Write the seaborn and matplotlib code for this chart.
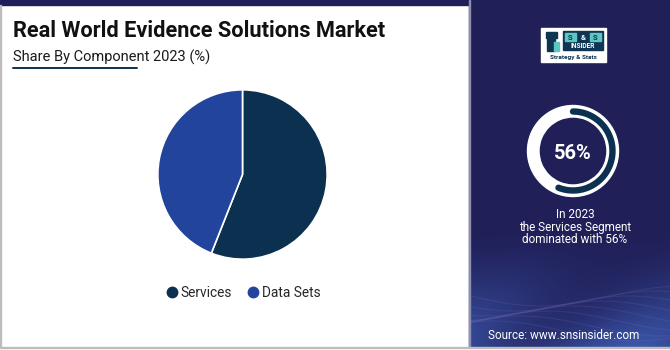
import numpy as np
import matplotlib
matplotlib.use("Agg")
import matplotlib.pyplot as plt
from matplotlib.patches import Rectangle, Wedge
from matplotlib.lines import Line2D
import seaborn as sns

# Market share by component, 2023 (%)
components = ["Services", "Data Sets"]
shares = [56, 44]
colors = ["#0c3150", "#22449c"]

title = "Real World Evidence Solutions Market"
subtitle = "Share By Component 2023 (%)"
highlight_year = "2023"
highlight_segment = "Services"
source = "Source: www.snsinsider.com"

sns.set_theme(style="white")
plt.rcParams["font.family"] = ["Roboto", "DejaVu Sans"]

W, H = 670, 350
NAVY = "#201f58"
fig = plt.figure(figsize=(W / 100, H / 100), dpi=100, facecolor="white")


def px_axes(x0, y0, w, h, **kw):
    """Axes placed by pixel box (top-left origin)."""
    return fig.add_axes([x0 / W, 1 - (y0 + h) / H, w / W, h / H], **kw)


# background canvas in pixel coordinates
bg = px_axes(0, 0, W, H)
bg.set_xlim(0, W)
bg.set_ylim(H, 0)
bg.axis("off")
bg.add_patch(Rectangle((0, 0), W, 5, color=NAVY, zorder=1))
bg.add_patch(Rectangle((469, 0), W - 469, 347, color=NAVY, zorder=1))
# lighter wave glow at the bottom of the side panel
grad = np.linspace(0, 1, 120)[:, None] ** 1.4
xs = np.linspace(0, 1, 200)[None, :]
rgb_top = np.array([0x20, 0x1f, 0x58]) / 255
rgb_bot = np.array([0x3a, 0x55, 0xa8]) / 255
mix = grad * (0.7 + 0.3 * np.sin(xs * 6 + grad * 3))
img = rgb_top[None, None, :] * (1 - mix[..., None]) + rgb_bot[None, None, :] * mix[..., None]
bg.imshow(img, extent=(470, W, 347, 227), aspect="auto", zorder=2, interpolation="bilinear")
for k in range(8):
    t = np.linspace(470, W, 200)
    yy = 296 + 10 * np.sin((t - 470) / 45 + k * 0.6) + k * 5
    bg.plot(t, yy, color="#9a7fd0", alpha=0.14, lw=0.8, zorder=3)
bg.add_patch(Rectangle((469, 0), 1.2, 347, color="#8c8fb0", zorder=4))
bg.add_patch(Rectangle((0, 5), 1.2, 342, color="#bdbdbd", zorder=4))
bg.add_patch(Rectangle((0, 347), W, 1.2, color="#bdbdbd", zorder=4))

# titles
bg.text(13, 37, title, fontsize=15.7, fontweight="bold", color="#111111",
        va="baseline", ha="left", zorder=5)
bg.text(13, 62, subtitle, fontsize=10.5, color="#1a1a1a",
        va="baseline", ha="left", zorder=5)
bg.plot([13, 137], [68, 68], color="#0c3150", lw=1.4, zorder=5)

# logo block
bg.add_patch(Rectangle((541, 28), 65, 34, color="white", zorder=5))
bg.add_patch(Rectangle((563, 31), 40, 19, color="#0f3552", zorder=6))
bg.add_patch(Rectangle((565, 32.5), 11, 8, color="#5cc6c0", zorder=7))
bg.add_patch(Rectangle((590, 32.5), 11, 8, color="#5cc6c0", zorder=7))
bg.text(570.5, 39.5, "S", fontsize=5.5, fontweight="bold", color="#0f3552", ha="center", zorder=8)
bg.text(583, 39.5, "&", fontsize=5.5, fontweight="bold", color="white", ha="center", zorder=8)
bg.text(595.5, 39.5, "S", fontsize=5.5, fontweight="bold", color="#0f3552", ha="center", zorder=8)
bg.text(583, 48.5, "INSIDER", fontsize=4.8, fontweight="bold", color="white", ha="center", zorder=8)
bg.text(573.5, 59.5, "Strategy & Stats", fontsize=4.6, fontweight="bold", color="#0f3552",
        ha="center", zorder=8)
bg.add_patch(Rectangle((547, 38), 8, 13, color="#0f3552", zorder=6))
bg.add_patch(Rectangle((545.5, 32), 11, 6, color="#0f3552", zorder=6))
bg.add_patch(Rectangle((554, 42), 5, 9, color="#5cc6c0", zorder=6))

# side panel texts
bg.text(573, 159, f"{shares[0]}%", fontsize=14.5, fontweight="bold", color="white",
        ha="center", va="baseline", zorder=6)
bg.text(575, 218, f"In {highlight_year}", fontsize=8.5, color="white", ha="center",
        va="baseline", zorder=6)
bg.text(575, 231, f"the {highlight_segment} Segment", fontsize=8.5, color="white",
        ha="center", va="baseline", zorder=6)
bg.text(575, 243, f"dominated with {shares[0]}%", fontsize=8.5, color="white",
        ha="center", va="baseline", zorder=6)
bg.text(564, 339, source, fontsize=8.5, color="white", ha="center", va="baseline", zorder=6)

# main pie
R = 85.5
ax = px_axes(242.5 - R, 174.5 - R, 2 * R, 2 * R)
ax.pie(shares, colors=colors, startangle=90, counterclock=False, radius=1,
       wedgeprops=dict(edgecolor="white", linewidth=1.2))
ax.set_xlim(-1.01, 1.01)
ax.set_ylim(-1.01, 1.01)
ax.set_aspect("equal")
ax.axis("off")

# legend under the pie
handles = [Line2D([0], [0], marker="o", linestyle="", markersize=7.5,
                  markerfacecolor=c, markeredgecolor=c) for c in colors]
fig.legend(handles, components, loc="center", bbox_to_anchor=(242 / W, 1 - 293 / H),
           ncol=2, frameon=False, fontsize=9.8, handletextpad=0.05, columnspacing=0.9,
           handlelength=1.2)

# side ring gauge
ring = px_axes(573 - 50, 151 - 50, 100, 100)
ring.set_xlim(-50, 50)
ring.set_ylim(-50, 50)
ring.set_aspect("equal")
ring.axis("off")
ring.add_patch(Wedge((0, 0), 45.5, 0, 360, width=11.5, color="white"))
theta = np.radians(np.linspace(90, 90 - 360 * shares[0] / 100, 200))
ring.plot(39.5 * np.cos(theta), 39.5 * np.sin(theta), color="#0c3150", lw=4.6,
          solid_capstyle="round")

fig.savefig("out.png", dpi=100, facecolor=fig.get_facecolor())
